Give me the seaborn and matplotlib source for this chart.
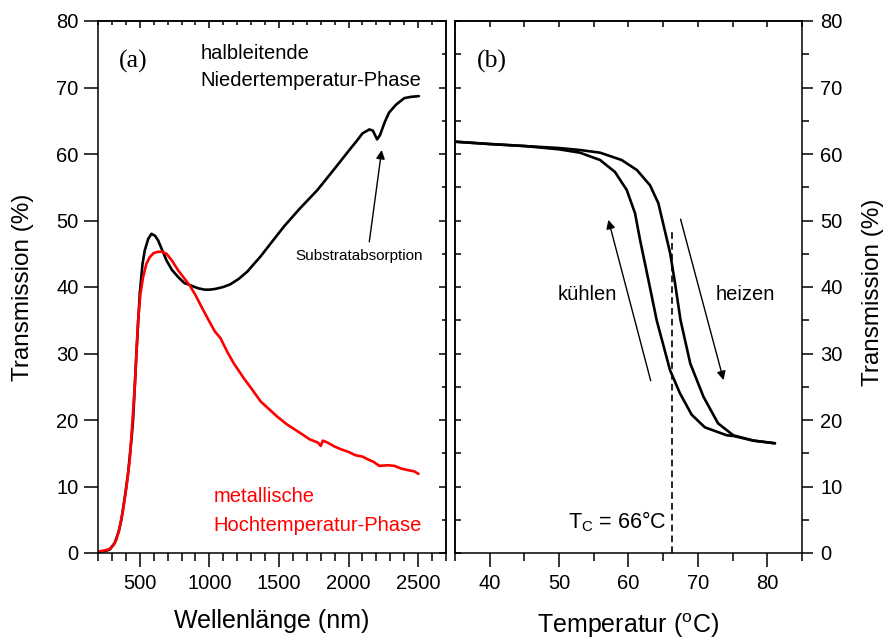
import numpy as np
import pandas as pd
import matplotlib
matplotlib.use("Agg")
import matplotlib.pyplot as plt
import seaborn as sns
from matplotlib.ticker import MultipleLocator

# ---------------- data ----------------
# (a) spectra: semiconducting low-temperature phase (black)
wl_low = [200, 250, 284, 320, 350, 368, 390, 416, 440, 452, 476, 500, 520, 536,
          560, 584, 610, 632, 660, 692, 730, 776, 820, 871, 920, 967, 1000, 1040,
          1100, 1150, 1210, 1272, 1368, 1450, 1536, 1650, 1777, 1900, 2017, 2060, 2100,
          2150, 2175, 2205, 2225, 2260, 2290, 2340, 2400, 2450, 2505]
t_low = [0.2, 0.3, 0.5, 1.5, 3.3, 5.0, 8.0, 12.0, 17.0, 20.0, 30.0, 39.0, 43.5, 45.5,
         47.2, 48.0, 47.7, 47.0, 45.6, 44.0, 42.6, 41.5, 40.6, 40.2, 39.8, 39.6, 39.6, 39.7,
         40.0, 40.4, 41.2, 42.3, 44.6, 46.8, 49.1, 51.8, 54.6, 57.8, 60.9, 62.0, 63.1,
         63.7, 63.5, 62.2, 62.8, 64.8, 66.2, 67.4, 68.4, 68.6, 68.7]

# (a) spectra: metallic high-temperature phase (red)
wl_high = [200, 250, 284, 310, 332, 355, 380, 405, 428, 445, 464, 476, 488, 505, 524,
           548, 572, 600, 632, 660, 692, 730, 776, 820, 860, 900, 944, 995, 1040, 1080,
           1130, 1176, 1250, 1300, 1368, 1420, 1488, 1560, 1656, 1720, 1780, 1800, 1815,
           1850, 1900, 1945, 2000, 2050, 2100, 2137, 2180, 2221, 2280, 2330, 2377, 2440,
           2470, 2502]
t_high = [0.2, 0.4, 0.6, 1.2, 2.0, 3.8, 6.5, 10.0, 14.0, 19.0, 25.0, 30.0, 35.0, 39.0, 41.5,
          43.5, 44.5, 45.1, 45.3, 45.3, 45.0, 44.0, 42.5, 41.3, 40.2, 38.8, 37.0, 35.0, 33.3, 32.3,
          30.2, 28.5, 26.2, 24.8, 22.8, 21.8, 20.5, 19.3, 18.0, 17.1, 16.6, 16.1, 16.9,
          16.6, 16.0, 15.6, 15.2, 14.7, 14.5, 14.1, 13.7, 13.1, 13.2, 13.1, 12.7, 12.4,
          12.3, 11.9]

# (b) hysteresis: heating branch
temp_heat = [35, 40, 45, 50, 53.0, 55.9, 59.0, 61.2, 63.1, 64.3, 66.0, 66.7, 67.5,
             68.9, 70.8, 72.9, 75.1, 78.0, 81.1]
t_heat = [61.85, 61.5, 61.2, 60.9, 60.6, 60.2, 59.1, 57.6, 55.3, 52.6, 45.1, 40.6, 35.0,
          28.5, 23.5, 19.5, 17.7, 16.9, 16.5]

# (b) hysteresis: cooling branch
temp_cool = [35, 40, 45, 50, 53.0, 55.9, 58.05, 59.74, 60.94, 61.66, 62.86, 64.06,
             65.98, 67.42, 69.1, 71.0, 74.15, 75.1, 78.0, 81.1]
t_cool = [61.85, 61.5, 61.2, 60.7, 60.2, 59.1, 57.3, 54.6, 51.1, 47.1, 41.1, 35.0,
          27.5, 24.0, 20.8, 18.9, 17.7, 17.6, 16.9, 16.5]

tc_value = 66.3

# ---------------- style ----------------
sns.set_style("ticks")
plt.rcParams['font.family'] = ['Liberation Sans', 'DejaVu Sans']
plt.rcParams['mathtext.fontset'] = 'custom'
plt.rcParams['mathtext.rm'] = 'Liberation Sans'
plt.rcParams['mathtext.it'] = 'Liberation Sans:italic'
plt.rcParams['axes.linewidth'] = 1.1
for key in ['text.color', 'axes.labelcolor', 'axes.edgecolor', 'xtick.color', 'ytick.color',
            'xtick.labelcolor', 'ytick.labelcolor']:
    plt.rcParams[key] = 'black'

TICK_FS = 14.5
TXT_FS = 14.5
fig = plt.figure(figsize=(8.87, 6.39), dpi=100)
axL = fig.add_axes([98/887, 86/639, 348/887, 532/639])
axR = fig.add_axes([455/887, 86/639, 347/887, 532/639])

LW = 1.9
sns.lineplot(x=wl_low, y=t_low, ax=axL, color='black', lw=LW, sort=False, estimator=None)
sns.lineplot(x=wl_high, y=t_high, ax=axL, color='#ff0000', lw=LW, sort=False, estimator=None)
sns.lineplot(x=temp_heat, y=t_heat, ax=axR, color='black', lw=LW, sort=False, estimator=None)
sns.lineplot(x=temp_cool, y=t_cool, ax=axR, color='black', lw=LW, sort=False, estimator=None)

# ---------- left axes ----------
axL.set_xlim(200, 2700)
axL.set_ylim(0, 80)
axL.xaxis.set_major_locator(MultipleLocator(500))
axL.xaxis.set_minor_locator(MultipleLocator(100))
axL.yaxis.set_major_locator(MultipleLocator(10))
axL.tick_params(axis='x', which='major', direction='out', length=10, width=1.1,
                labelsize=TICK_FS, pad=5)
axL.tick_params(axis='x', which='minor', direction='out', length=6, width=1.1)
axL.tick_params(axis='y', which='major', direction='out', length=10, width=1.1,
                labelsize=TICK_FS, pad=4)
secT = axL.secondary_xaxis('top')
secT.xaxis.set_major_locator(MultipleLocator(500))
secT.xaxis.set_minor_locator(MultipleLocator(100))
secT.tick_params(which='major', direction='in', length=5, width=1.1, labeltop=False)
secT.tick_params(which='minor', direction='in', length=3, width=1.1)
secR = axL.secondary_yaxis('right')
secR.yaxis.set_major_locator(MultipleLocator(10))
secR.yaxis.set_minor_locator(MultipleLocator(5))
secR.tick_params(which='major', direction='in', length=5, width=1.1, labelright=False)
secR.tick_params(which='minor', direction='in', length=3, width=1.1)

axL.set_xlabel('Wellenlänge (nm)', fontsize=18)
axL.set_ylabel('Transmission (%)', fontsize=17.5)
axL.xaxis.set_label_coords(0.5, -0.105)
axL.yaxis.set_label_coords(-0.183, 0.5)

axL.text(450, 73.9, '(a)', family=['Liberation Serif'], fontsize=18.5, ha='center', va='center')
axL.text(935, 75.1, 'halbleitende', fontsize=TXT_FS, ha='left', va='center')
axL.text(935, 71.0, 'Niedertemperatur-Phase', fontsize=TXT_FS, ha='left', va='center')
axL.text(1031, 8.5, 'metallische', fontsize=TXT_FS, ha='left', va='center', color='#ff0000')
axL.text(1031, 4.2, 'Hochtemperatur-Phase', fontsize=TXT_FS, ha='left', va='center', color='#ff0000')
axL.text(2075, 44.7, 'Substratabsorption', fontsize=11, ha='center', va='center')
axL.annotate('', xy=(2238, 60.6), xytext=(2149, 46.8),
             arrowprops=dict(arrowstyle='-|>', lw=1.0, color='black', mutation_scale=13,
                             shrinkA=0, shrinkB=0))

# ---------- right axes ----------
axR.set_xlim(35, 85)
axR.set_ylim(0, 80)
axR.xaxis.set_major_locator(MultipleLocator(10))
axR.xaxis.set_minor_locator(MultipleLocator(5))
axR.yaxis.set_major_locator(MultipleLocator(10))
axR.yaxis.set_minor_locator(MultipleLocator(5))
axR.yaxis.tick_right()
axR.yaxis.set_label_position('right')
axR.tick_params(axis='x', which='major', direction='out', length=10, width=1.1,
                labelsize=TICK_FS, pad=5)
axR.tick_params(axis='x', which='minor', direction='out', length=6, width=1.1)
axR.tick_params(axis='y', which='major', direction='out', length=8, width=1.1,
                labelsize=TICK_FS, pad=5)
axR.tick_params(axis='y', which='minor', direction='out', length=5, width=1.1)
secT2 = axR.secondary_xaxis('top')
secT2.xaxis.set_major_locator(MultipleLocator(5))
secT2.tick_params(which='major', direction='in', length=4, width=1.1, labeltop=False)
secL2 = axR.secondary_yaxis('left')
secL2.yaxis.set_major_locator(MultipleLocator(5))
secL2.tick_params(which='major', direction='in', length=4, width=1.1, labelleft=False)

axR.set_xlabel('Temperatur ($^{\\mathrm{o}}$C)', fontsize=18)
axR.set_ylabel('Transmission (%)', fontsize=17.5)
axR.xaxis.set_label_coords(0.5, -0.11)
axR.yaxis.set_label_coords(1.172, 0.49)

axR.plot([tc_value, tc_value], [0, 48.8], color='black', lw=1.2, linestyle=(0, (4, 2.5)))
axR.text(65.5, 3.7, 'T$_{\\mathrm{C}}$ = 66°C', fontsize=15.5, ha='right', va='baseline')
axR.text(40.3, 73.9, '(b)', family=['Liberation Serif'], fontsize=18.5, ha='center', va='center')
axR.text(54.0, 38.8, 'kühlen', fontsize=TXT_FS, ha='center', va='center')
axR.text(76.9, 38.8, 'heizen', fontsize=TXT_FS, ha='center', va='center')
axR.annotate('', xy=(57.1, 50.1), xytext=(63.2, 25.9),
             arrowprops=dict(arrowstyle='-|>', lw=1.0, color='black', mutation_scale=13,
                             shrinkA=0, shrinkB=0))
axR.annotate('', xy=(73.7, 26.0), xytext=(67.5, 50.2),
             arrowprops=dict(arrowstyle='-|>', lw=1.0, color='black', mutation_scale=13,
                             shrinkA=0, shrinkB=0))

fig.savefig('out.png', dpi=100)
